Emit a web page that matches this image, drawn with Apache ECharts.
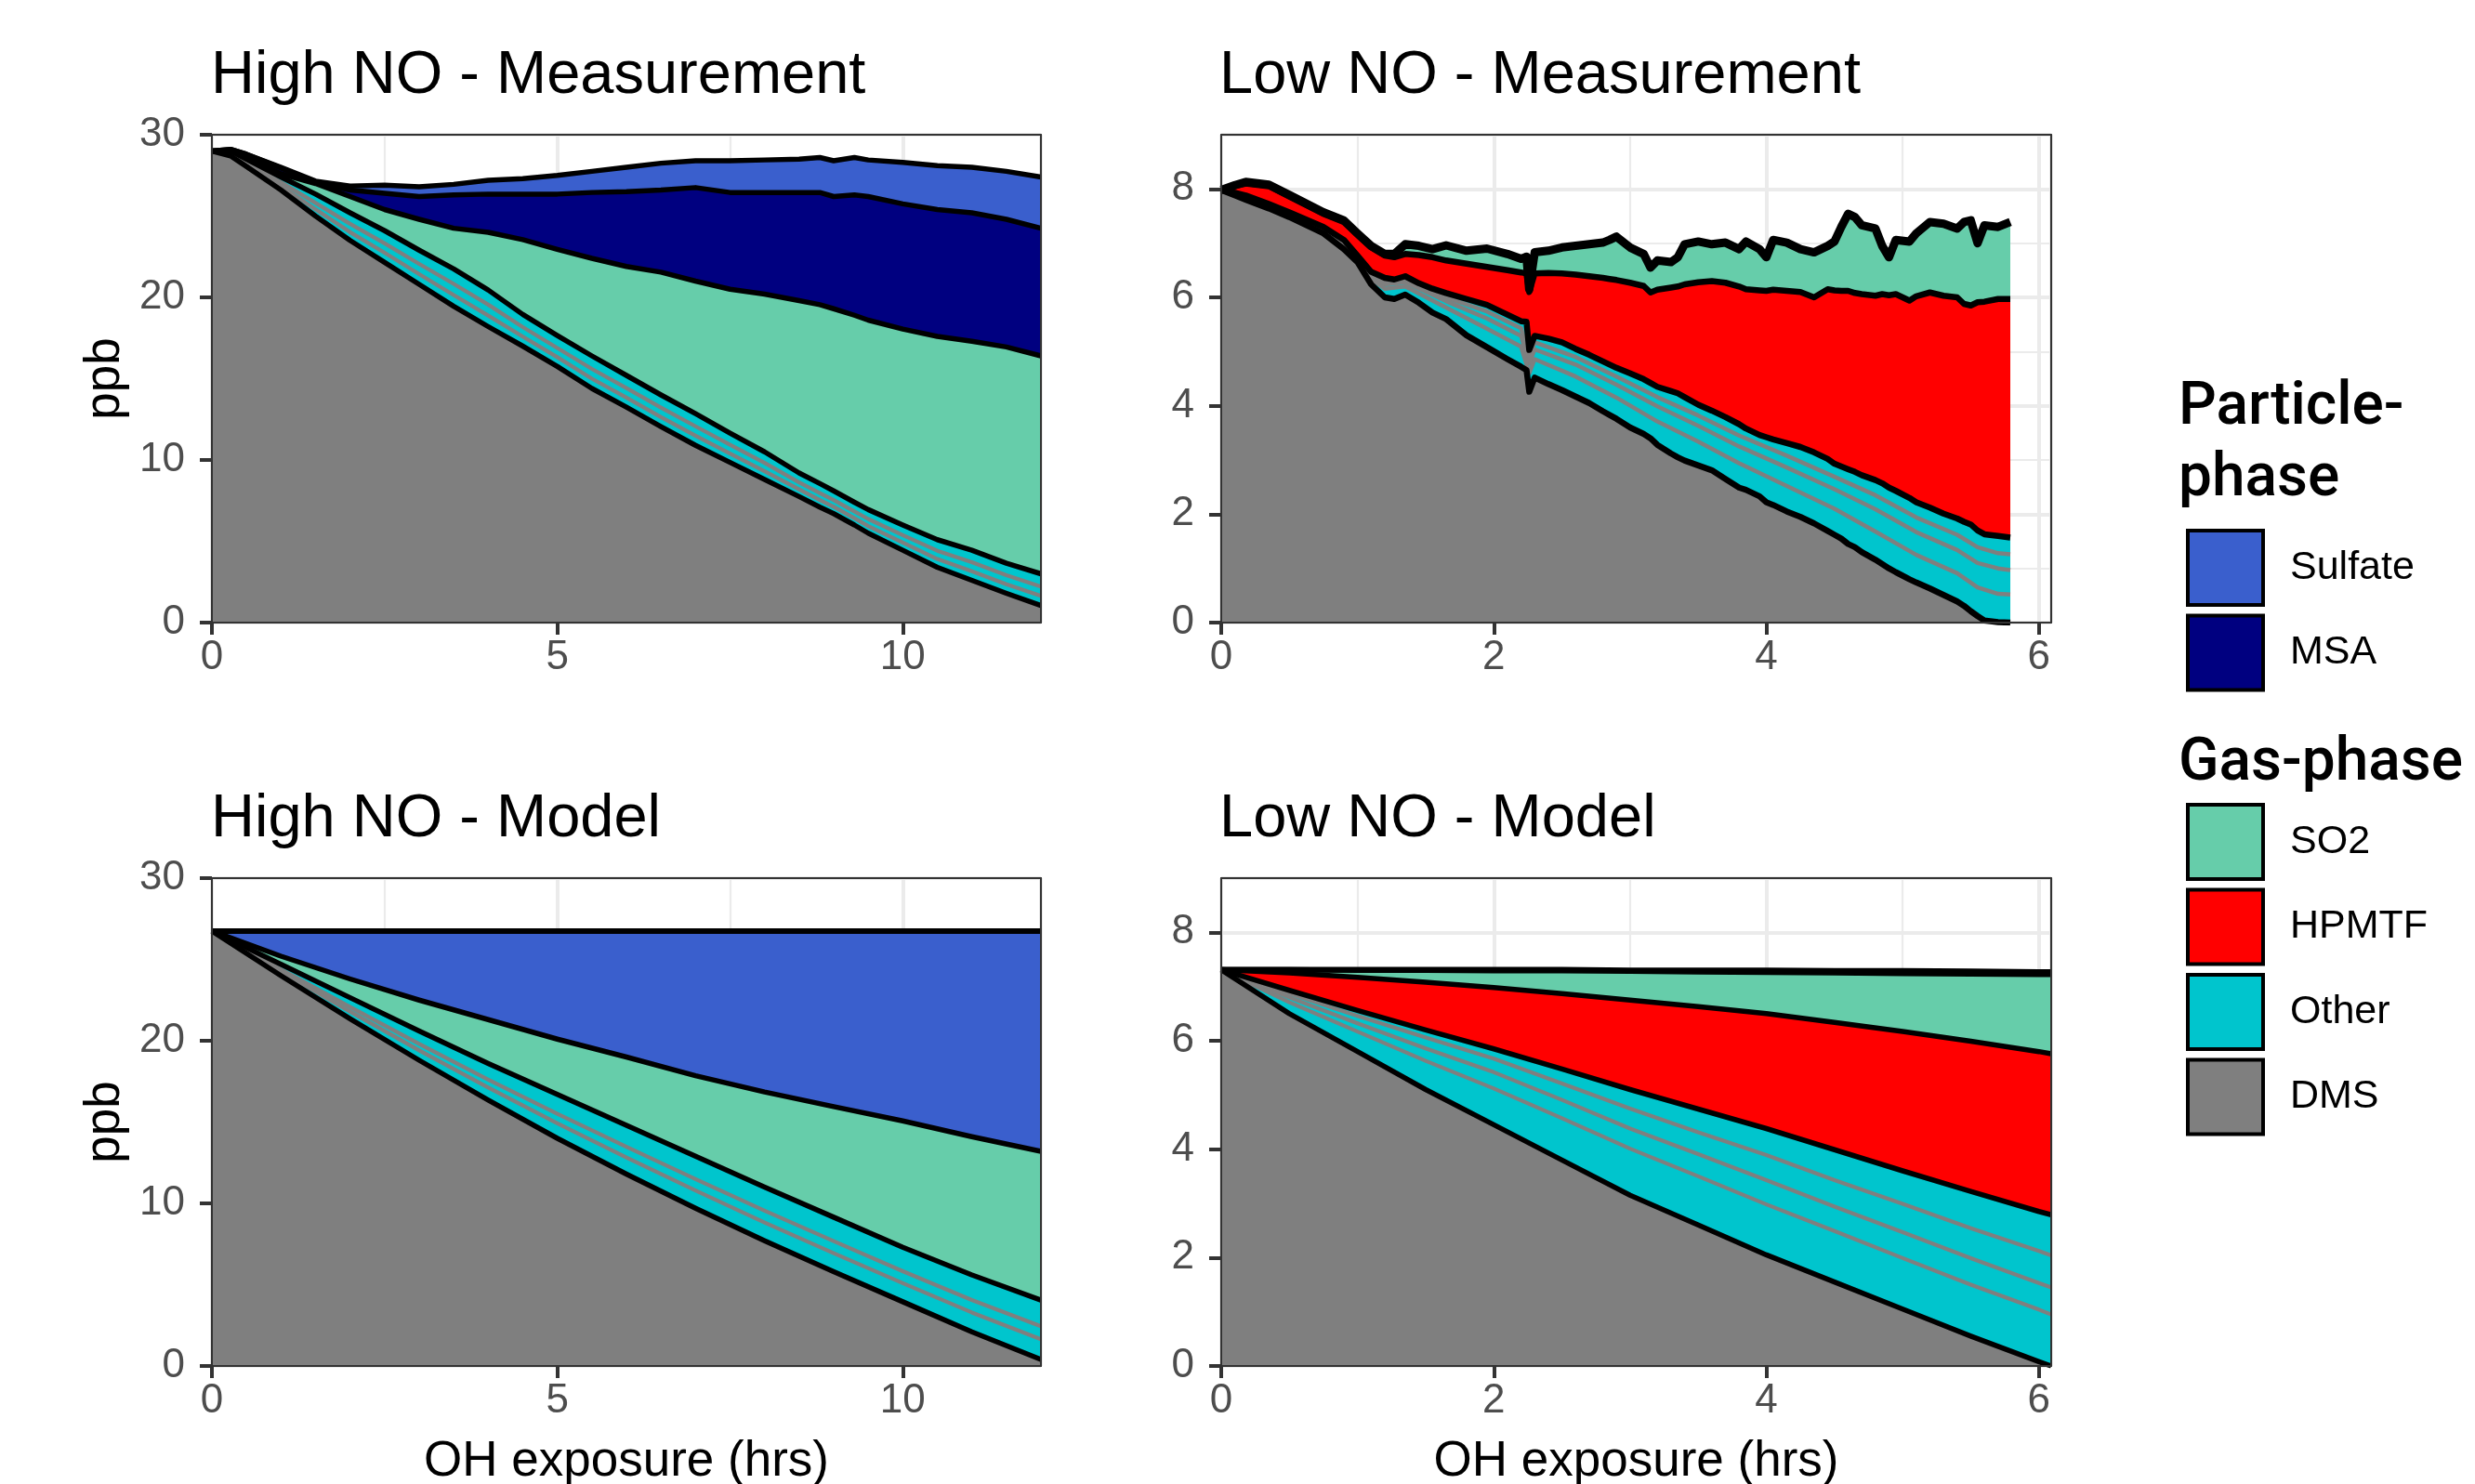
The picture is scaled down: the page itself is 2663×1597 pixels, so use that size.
<!DOCTYPE html>
<html>
<head>
<meta charset="utf-8">
<script src="https://cdn.jsdelivr.net/npm/echarts@6.0.0/dist/echarts.min.js"></script>
<style>
  html, body { margin: 0; padding: 0; background: #fff; }
  #chart { width: 2663px; height: 1597px; }
</style>
</head>
<body>
<div id="chart"></div>
<script>
// ---- data (ppb, cumulative tops of each stacked layer) ----

// High NO - Measurement
var hiMeasX = [0, 0.27, 0.5, 1, 1.5, 2, 2.5, 3, 3.5, 4, 4.5, 5, 5.5, 6, 6.5, 7, 7.5, 8, 8.5, 8.8, 9, 9.3, 9.5, 10, 10.5, 11, 11.5, 12];
var hiMeasSulfateTop = [29.0, 29.1, 28.8, 28.0, 27.15, 26.85, 26.9, 26.8, 26.95, 27.2, 27.3, 27.5, 27.75, 28.0, 28.25, 28.4, 28.4, 28.45, 28.5, 28.6, 28.4, 28.6, 28.45, 28.3, 28.1, 28.0, 27.75, 27.4];
var hiMeasMsaTop = [29.0, 29.1, 28.8, 27.95, 27.1, 26.6, 26.4, 26.2, 26.3, 26.35, 26.35, 26.35, 26.45, 26.5, 26.6, 26.75, 26.45, 26.45, 26.45, 26.45, 26.2, 26.3, 26.2, 25.75, 25.4, 25.2, 24.8, 24.25];
var hiMeasSo2Top = [29.0, 29.05, 28.6, 27.6, 27.0, 26.2, 25.4, 24.8, 24.25, 24.0, 23.55, 22.95, 22.4, 21.9, 21.55, 21.0, 20.5, 20.2, 19.8, 19.55, 19.3, 18.9, 18.6, 18.05, 17.6, 17.3, 16.95, 16.4];
var hiMeasOtherTop = [29.0, 29.0, 28.5, 27.4, 26.35, 25.2, 24.1, 22.9, 21.75, 20.45, 18.95, 17.65, 16.4, 15.2, 14.0, 12.85, 11.65, 10.5, 9.2, 8.55, 8.1, 7.4, 6.95, 6.0, 5.1, 4.45, 3.65, 3.0];
var hiMeasOther1 = [29.0, 28.88, 28.32, 27.08, 25.81, 24.52, 23.32, 22.06, 20.83, 19.55, 18.17, 16.89, 15.6, 14.42, 13.22, 12.07, 10.93, 9.82, 8.62, 7.97, 7.54, 6.84, 6.37, 5.38, 4.42, 3.71, 2.91, 2.22];
var hiMeasOther2 = [29.0, 28.79, 28.19, 26.84, 25.41, 24.01, 22.74, 21.43, 20.14, 18.88, 17.59, 16.32, 15.0, 13.84, 12.64, 11.49, 10.39, 9.31, 8.19, 7.54, 7.12, 6.42, 5.94, 4.92, 3.91, 3.16, 2.36, 1.64];
var hiMeasDmsTop = [29.0, 28.7, 28.05, 26.6, 25.0, 23.5, 22.15, 20.8, 19.45, 18.2, 17.0, 15.75, 14.4, 13.25, 12.05, 10.9, 9.85, 8.8, 7.75, 7.1, 6.7, 6.0, 5.5, 4.45, 3.4, 2.6, 1.8, 1.05];

// Low NO - Measurement
var loMeasX = [0, 0.1, 0.18, 0.35, 0.5, 0.75, 0.9, 1.0, 1.1, 1.2, 1.27, 1.35, 1.45, 1.55, 1.65, 1.8, 1.95, 2.1, 2.2, 2.24,
  2.26, 2.3, 2.4, 2.5, 2.6, 2.7, 2.8, 2.85, 2.9, 3.0, 3.1, 3.15, 3.2, 3.3, 3.35, 3.4, 3.5, 3.6, 3.7, 3.8,
  3.85, 3.95, 4.0, 4.05, 4.15, 4.25, 4.35, 4.45, 4.5, 4.55, 4.6, 4.65, 4.7, 4.8, 4.85, 4.9, 4.95, 5.05, 5.1, 5.2,
  5.3, 5.4, 5.45, 5.5, 5.55, 5.6, 5.7, 5.79];
var loMeasSo2Top = [7.98, 8.07, 8.13, 8.08, 7.89, 7.57, 7.42, 7.18, 6.95, 6.80, 6.80, 6.98, 6.95, 6.89, 6.96, 6.86, 6.90, 6.80, 6.71, 6.75,
  6.15, 6.83, 6.86, 6.92, 6.95, 6.98, 7.01, 7.06, 7.12, 6.92, 6.80, 6.55, 6.68, 6.65, 6.74, 6.98, 7.03, 6.98, 7.01, 6.89,
  7.03, 6.89, 6.74, 7.06, 7.01, 6.89, 6.83, 6.95, 7.03, 7.30, 7.54, 7.48, 7.33, 7.27, 6.95, 6.74, 7.06, 7.03, 7.18, 7.39,
  7.36, 7.27, 7.39, 7.42, 7.00, 7.33, 7.30, 7.39];
var loMeasHpmtfTop = [7.98, 8.05, 8.10, 8.05, 7.86, 7.54, 7.39, 7.15, 6.92, 6.77, 6.74, 6.80, 6.78, 6.74, 6.68, 6.62, 6.56, 6.50, 6.46, 6.44,
  6.10, 6.44, 6.45, 6.44, 6.42, 6.39, 6.36, 6.34, 6.32, 6.27, 6.21, 6.09, 6.14, 6.18, 6.20, 6.24, 6.28, 6.30, 6.27, 6.20,
  6.15, 6.13, 6.12, 6.14, 6.12, 6.10, 6.00, 6.15, 6.13, 6.12, 6.12, 6.08, 6.06, 6.03, 6.06, 6.04, 6.06, 5.94, 6.02, 6.09,
  6.03, 6.00, 5.88, 5.85, 5.91, 5.92, 5.97, 5.97];
var loMeasOtherTop = [7.98, 7.93, 7.88, 7.72, 7.57, 7.30, 7.06, 6.77, 6.47, 6.36, 6.33, 6.39, 6.26, 6.16, 6.08, 5.97, 5.86, 5.68, 5.56, 5.55,
  5.03, 5.29, 5.24, 5.17, 5.05, 4.94, 4.82, 4.76, 4.70, 4.60, 4.49, 4.42, 4.35, 4.27, 4.23, 4.16, 4.02, 3.91, 3.79, 3.66,
  3.58, 3.46, 3.42, 3.38, 3.31, 3.24, 3.14, 3.02, 2.93, 2.88, 2.83, 2.78, 2.72, 2.63, 2.57, 2.49, 2.43, 2.30, 2.22, 2.12,
  2.01, 1.92, 1.86, 1.81, 1.70, 1.63, 1.60, 1.57];
var loMeasDmsTop = [7.98, 7.88, 7.80, 7.64, 7.48, 7.18, 6.89, 6.65, 6.24, 6.00, 5.97, 6.05, 5.90, 5.72, 5.60, 5.30, 5.08, 4.86, 4.72, 4.66,
  4.26, 4.52, 4.40, 4.29, 4.17, 4.05, 3.90, 3.83, 3.76, 3.60, 3.48, 3.40, 3.28, 3.12, 3.05, 2.99, 2.90, 2.81, 2.65, 2.49,
  2.45, 2.33, 2.22, 2.17, 2.05, 1.95, 1.83, 1.69, 1.62, 1.55, 1.45, 1.39, 1.30, 1.16, 1.08, 1.00, 0.93, 0.80, 0.74, 0.63,
  0.51, 0.39, 0.31, 0.21, 0.12, 0.04, 0.01, 0.00];
var loMeasSubX = [0, 0.35, 0.75, 1.0, 1.1, 1.2, 1.35, 1.65, 1.95, 2.2, 2.26, 2.3, 2.6, 2.9, 3.2, 3.5, 3.8, 4.15, 4.5, 4.8, 5.1, 5.4, 5.55, 5.7, 5.79];
var loMeasOther1 = [7.98, 7.71, 7.28, 6.75, 6.43, 6.30, 6.34, 6.00, 5.74, 5.43, 4.91, 5.17, 4.90, 4.54, 4.16, 3.82, 3.45, 3.08, 2.69, 2.35, 1.94, 1.62, 1.39, 1.28, 1.26];
var loMeasOther2 = [7.98, 7.69, 7.26, 6.73, 6.40, 6.24, 6.28, 5.93, 5.61, 5.29, 4.78, 5.04, 4.76, 4.39, 3.99, 3.63, 3.25, 2.86, 2.46, 2.09, 1.67, 1.34, 1.10, 1.00, 0.97];
var loMeasOther3 = [7.98, 7.68, 7.23, 6.70, 6.34, 6.16, 6.20, 5.81, 5.42, 5.09, 4.60, 4.86, 4.54, 4.15, 3.71, 3.34, 2.94, 2.52, 2.10, 1.68, 1.25, 0.91, 0.65, 0.53, 0.52];

// High NO - Model
var hiModX = [0, 1, 2, 3, 4, 5, 6, 7, 8, 9, 10, 11, 12];
var hiModSulfateTop = [26.75, 26.75, 26.75, 26.75, 26.75, 26.75, 26.75, 26.75, 26.75, 26.75, 26.75, 26.75, 26.75];
var hiModSo2Top = [26.75, 25.2, 23.8, 22.5, 21.3, 20.1, 19.0, 17.85, 16.85, 15.95, 15.07, 14.1, 13.2];
var hiModOtherTop = [26.75, 24.7, 22.65, 20.6, 18.6, 16.7, 14.8, 12.9, 11.0, 9.15, 7.3, 5.6, 4.05];
var hiModOther1 = [26.75, 24.39, 22.08, 19.81, 17.61, 15.51, 13.48, 11.49, 9.55, 7.68, 5.83, 4.06, 2.44];
var hiModOther2 = [26.75, 24.24, 21.79, 19.41, 17.12, 14.92, 12.82, 10.79, 8.82, 6.94, 5.09, 3.29, 1.64];
var hiModDmsTop = [26.75, 24.0, 21.35, 18.8, 16.35, 14.0, 11.8, 9.7, 7.7, 5.8, 3.95, 2.1, 0.4];

// Low NO - Model
var loModX = [0, 0.5, 1, 1.5, 2, 2.5, 3, 3.5, 4, 4.5, 5, 5.5, 6, 6.09];
var loModSulfateTop = [7.31, 7.31, 7.31, 7.31, 7.31, 7.31, 7.30, 7.30, 7.30, 7.29, 7.29, 7.28, 7.27, 7.27];
var loModSo2Top = [7.31, 7.31, 7.30, 7.30, 7.29, 7.29, 7.28, 7.27, 7.26, 7.25, 7.24, 7.23, 7.22, 7.22];
var loModHpmtfTop = [7.31, 7.25, 7.17, 7.08, 6.98, 6.87, 6.75, 6.63, 6.50, 6.34, 6.17, 5.99, 5.80, 5.76];
var loModOtherTop = [7.31, 6.93, 6.56, 6.20, 5.85, 5.48, 5.10, 4.74, 4.38, 3.99, 3.60, 3.22, 2.85, 2.79];
var loModOther1 = [7.31, 6.87, 6.46, 6.06, 5.67, 5.21, 4.75, 4.31, 3.89, 3.43, 2.99, 2.54, 2.12, 2.04];
var loModOther2 = [7.31, 6.80, 6.32, 5.86, 5.42, 4.91, 4.38, 3.91, 3.43, 2.94, 2.47, 1.99, 1.53, 1.45];
var loModOther3 = [7.31, 6.71, 6.17, 5.63, 5.12, 4.57, 4.01, 3.50, 2.98, 2.49, 1.99, 1.50, 1.04, 0.95];
var loModDmsTop = [7.31, 6.50, 5.80, 5.10, 4.45, 3.80, 3.15, 2.60, 2.05, 1.55, 1.05, 0.55, 0.08, 0.00];

// tick labels
var hiXTicks = [0, 5, 10];
var hiYTicks = [0, 10, 20, 30];
var loXTicks = [0, 2, 4, 6];
var loYTicks = [0, 2, 4, 6, 8];

// ---- styling ----
var FONT = '"Liberation Sans", Arial, sans-serif';
var COL = {
  Sulfate: '#3a5fcd', MSA: '#000080', SO2: '#66cdaa',
  HPMTF: '#ff0000', Other: '#00c5cd', DMS: '#7f7f7f'
};
var SUBLINE = '#7f7f7f';
var GRIDLINE = '#ebebeb';
var BORDER = '#333333';

var xAxes = [], yAxes = [], series = [];

function addPanel(gridIndex, p) {
  var base = { gridIndex: gridIndex, type: 'value', min: 0 };
  var hidden = { axisLine: { show: false }, axisTick: { show: false }, axisLabel: { show: false } };
  var xi = xAxes.length, yi = yAxes.length;

  // x: main (bottom), border (top), minor + major grid
  xAxes.push(Object.assign({}, base, {
    max: p.xMax, interval: p.xStep, position: 'bottom', z: 10,
    axisLine: { show: true, onZero: false, lineStyle: { color: BORDER, width: 2 } },
    axisTick: { show: true, length: 13, customValues: p.xTicks, lineStyle: { color: BORDER, width: 4 } },
    axisLabel: { show: true, customValues: p.xTicks, margin: 16, fontSize: 44, color: '#4d4d4d', fontFamily: FONT },
    splitLine: { show: false },
    name: p.xName || '', nameLocation: 'middle', nameGap: 77,
    nameTextStyle: { fontSize: 53, color: '#000', fontFamily: FONT }
  }));
  xAxes.push(Object.assign({}, base, {
    max: p.xMax, position: 'top', z: 10,
    axisLine: { show: true, onZero: false, lineStyle: { color: BORDER, width: 2 } },
    axisTick: { show: false }, axisLabel: { show: false }, splitLine: { show: false }
  }));
  xAxes.push(Object.assign({}, base, hidden, {
    max: p.xMax, interval: p.xStep / 2,
    splitLine: { show: true, lineStyle: { color: GRIDLINE, width: 2.2 } }
  }));
  xAxes.push(Object.assign({}, base, hidden, {
    max: p.xMax, interval: p.xStep,
    splitLine: { show: true, lineStyle: { color: GRIDLINE, width: 4 } }
  }));

  yAxes.push(Object.assign({}, base, {
    max: p.yMax, interval: p.yStep, position: 'left', z: 10,
    axisLine: { show: true, onZero: false, lineStyle: { color: BORDER, width: 2 } },
    axisTick: { show: true, length: 13, customValues: p.yTicks, lineStyle: { color: BORDER, width: 4 } },
    axisLabel: { show: true, customValues: p.yTicks, margin: 29, fontSize: 44, color: '#4d4d4d', fontFamily: FONT },
    splitLine: { show: false },
    name: p.yName || '', nameLocation: 'middle', nameGap: 88, nameRotate: 90,
    nameTextStyle: { fontSize: 53, color: '#000', fontFamily: FONT }
  }));
  yAxes.push(Object.assign({}, base, {
    max: p.yMax, position: 'right', z: 10,
    axisLine: { show: true, onZero: false, lineStyle: { color: BORDER, width: 2 } },
    axisTick: { show: false }, axisLabel: { show: false }, splitLine: { show: false }
  }));
  yAxes.push(Object.assign({}, base, hidden, {
    max: p.yMax, interval: p.yStep / 2,
    splitLine: { show: true, lineStyle: { color: GRIDLINE, width: 2.2 } }
  }));
  yAxes.push(Object.assign({}, base, hidden, {
    max: p.yMax, interval: p.yStep,
    splitLine: { show: true, lineStyle: { color: GRIDLINE, width: 4 } }
  }));
  return { x: xi, y: yi };
}

function pairs(xs, ys) {
  return xs.map(function (x, i) { return [x, ys[i]]; });
}

function addArea(name, ax, xs, ys) {
  series.push({
    name: name, type: 'line', xAxisIndex: ax.x, yAxisIndex: ax.y,
    data: pairs(xs, ys), symbol: 'none', silent: true, z: 2,
    color: COL[name],
    lineStyle: { width: 0, opacity: 0 },
    areaStyle: { color: COL[name], opacity: 1 }
  });
}

function addEdge(name, ax, xs, ys, color, width, z) {
  series.push({
    name: name, type: 'line', xAxisIndex: ax.x, yAxisIndex: ax.y,
    data: pairs(xs, ys), symbol: 'none', silent: true, z: z,
    color: color,
    lineStyle: { color: color, width: width, join: 'round', cap: 'butt' }
  });
}

// each panel: areas drawn from the top layer down, then the outlines
function buildPanel(ax, layers, subs, subX, w) {
  layers.forEach(function (l) { addArea(l[0], ax, l[1], l[2]); });
  subs.forEach(function (s) { addEdge('Other', ax, subX, s, SUBLINE, w.grey, 2); });
  layers.forEach(function (l, i) {
    addEdge(l[0], ax, l[1], l[2], '#000000', i === 0 ? w.top : w.black, 3);
  });
}

var pTL = addPanel(0, { xMax: 12, xStep: 5, xTicks: hiXTicks, yMax: 30, yStep: 10, yTicks: hiYTicks, yName: 'ppb' });
var pTR = addPanel(1, { xMax: 6.09, xStep: 2, xTicks: loXTicks, yMax: 9, yStep: 2, yTicks: loYTicks });
var pBL = addPanel(2, { xMax: 12, xStep: 5, xTicks: hiXTicks, yMax: 30, yStep: 10, yTicks: hiYTicks, yName: 'ppb', xName: 'OH exposure (hrs)' });
var pBR = addPanel(3, { xMax: 6.09, xStep: 2, xTicks: loXTicks, yMax: 9, yStep: 2, yTicks: loYTicks, xName: 'OH exposure (hrs)' });

buildPanel(pTL, [
  ['Sulfate', hiMeasX, hiMeasSulfateTop],
  ['MSA', hiMeasX, hiMeasMsaTop],
  ['SO2', hiMeasX, hiMeasSo2Top],
  ['Other', hiMeasX, hiMeasOtherTop],
  ['DMS', hiMeasX, hiMeasDmsTop]
], [hiMeasOther1, hiMeasOther2], hiMeasX, { top: 5.5, black: 5.5, grey: 4.2 });

buildPanel(pTR, [
  ['SO2', loMeasX, loMeasSo2Top],
  ['HPMTF', loMeasX, loMeasHpmtfTop],
  ['Other', loMeasX, loMeasOtherTop],
  ['DMS', loMeasX, loMeasDmsTop]
], [loMeasOther1, loMeasOther2, loMeasOther3], loMeasSubX, { top: 9, black: 6.5, grey: 4.5 });

buildPanel(pBL, [
  ['Sulfate', hiModX, hiModSulfateTop],
  ['SO2', hiModX, hiModSo2Top],
  ['Other', hiModX, hiModOtherTop],
  ['DMS', hiModX, hiModDmsTop]
], [hiModOther1, hiModOther2], hiModX, { top: 6, black: 5.5, grey: 4.2 });

buildPanel(pBR, [
  ['Sulfate', loModX, loModSulfateTop],
  ['SO2', loModX, loModSo2Top],
  ['HPMTF', loModX, loModHpmtfTop],
  ['Other', loModX, loModOtherTop],
  ['DMS', loModX, loModDmsTop]
], [loModOther1, loModOther2, loModOther3], loModX, { top: 6, black: 5.5, grey: 4.2 });

function legendItems(names) {
  return names.map(function (n) { return { name: n, itemStyle: { color: COL[n] } }; });
}
var legendBase = {
  orient: 'vertical', left: 2352, padding: 0, icon: 'rect',
  itemWidth: 81, itemHeight: 80, itemGap: 7.5, selectedMode: false,
  itemStyle: { borderColor: '#000', borderWidth: 4 },
  textStyle: { fontSize: 43, color: '#000', fontFamily: FONT, padding: [0, 0, 0, 24] }
};

var titleStyle = { fontSize: 65, fontWeight: 'normal', color: '#000', fontFamily: FONT };
var legendTitleFont = '500 64px Roboto, "Noto Sans", sans-serif';

var option = {
  backgroundColor: '#ffffff',
  animation: false,
  title: [
    { text: 'High NO - Measurement', left: 227, top: 50, padding: 0, textStyle: titleStyle },
    { text: 'Low NO - Measurement', left: 1312, top: 50, padding: 0, textStyle: titleStyle },
    { text: 'High NO - Model', left: 227, top: 850, padding: 0, textStyle: titleStyle },
    { text: 'Low NO - Model', left: 1312, top: 850, padding: 0, textStyle: titleStyle }
  ],
  grid: [
    { left: 228, top: 145, width: 892, height: 525, containLabel: false, outerBoundsMode: 'none' },
    { left: 1314, top: 145, width: 893, height: 525, containLabel: false, outerBoundsMode: 'none' },
    { left: 228, top: 945, width: 892, height: 525, containLabel: false, outerBoundsMode: 'none' },
    { left: 1314, top: 945, width: 893, height: 525, containLabel: false, outerBoundsMode: 'none' }
  ],
  legend: [
    Object.assign({}, legendBase, { top: 569, data: legendItems(['Sulfate', 'MSA']) }),
    Object.assign({}, legendBase, { top: 864, data: legendItems(['SO2', 'HPMTF', 'Other', 'DMS']) })
  ],
  graphic: [
    { type: 'text', x: 2344, y: 440, silent: true, style: { text: 'Particle-', font: legendTitleFont, fill: '#000', verticalAlign: 'middle' } },
    { type: 'text', x: 2344, y: 517, silent: true, style: { text: 'phase', font: legendTitleFont, fill: '#000', verticalAlign: 'middle' } },
    { type: 'text', x: 2344, y: 823, silent: true, style: { text: 'Gas-phase', font: legendTitleFont, fill: '#000', verticalAlign: 'middle' } }
  ],
  xAxis: xAxes,
  yAxis: yAxes,
  series: series
};

var chart = echarts.init(document.getElementById('chart'), null, { renderer: 'canvas' });
chart.setOption(option);
</script>
</body>
</html>
